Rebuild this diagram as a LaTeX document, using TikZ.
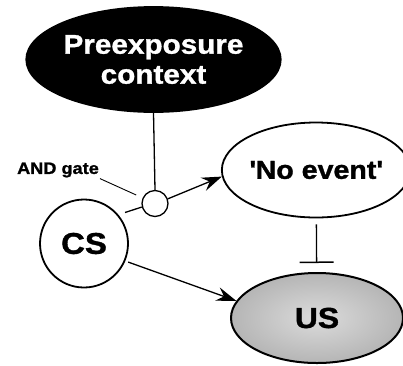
\documentclass[tikz,border=0pt]{standalone}
\usepackage{fontspec}
\setmainfont{Liberation Sans}[FakeStretch=1.1, BoldFeatures={FakeBold=1.2}]
\usetikzlibrary{shapes.geometric, arrows.meta}

\begin{document}
\begin{tikzpicture}[x = 1pt, y = -1pt,
	> = {Stealth[length = 20pt, width = 14pt, inset = 7pt]},
	every node/.style = {text = black, font = \bfseries},
	blob/.style = {ellipse, draw, line width = 1.8pt, inner sep = 0pt},
	link/.style = {line width = 1.3pt}]

	% Canvas

	\useasboundingbox (0, 0) rectangle (403, 365);

	% Stimuli and context

	\node [blob, fill = black, text = white, minimum width = 247pt, minimum height = 105pt,
		align = center, font = \bfseries\fontsize{27}{30}\selectfont]
		(ctx) at (153.5, 59.5) {Preexposure\\context};
	\node [blob, circle, minimum size = 88pt, font = \bfseries\fontsize{30}{30}\selectfont]
		(cs) at (84, 243.5) {CS};
	\node [blob, minimum width = 172pt, minimum height = 95pt, font = \bfseries\fontsize{26}{30}\selectfont]
		(noev) at (316, 170) {\textquotesingle No event\textquotesingle};
	\node [blob, line width = 2pt, shading = radial, inner color = gray!28, outer color = gray!58,
		minimum width = 172pt, minimum height = 90pt, font = \bfseries\fontsize{29}{30}\selectfont]
		(us) at (317, 318) {US};

	% AND gate with its label

	\node [circle, draw, line width = 1.3pt, minimum size = 26pt, inner sep = 0pt] (gate) at (155, 203.5) {};
	\node [inner sep = 1pt, font = \bfseries\fontsize{16.5}{18}\selectfont] (andlbl) at (58, 170) {AND gate};

	% Connections

	\draw [link] (ctx.south) -- (gate.north);
	\draw [link, shorten <= 7pt] (cs.40) -- (gate.195);
	\draw [link, ->] (gate.20) -- (noev.184);
	\draw [link, ->, shorten <= 3pt] (cs.-23) -- (us.168);
	\draw [line width = 0.9pt, shorten >= 7pt] (andlbl.south east) -- (gate);
	\draw [link, -{Bar[width = 34pt, line width = 1.5pt]}, shorten <= 6pt, shorten >= 9pt] (noev) -- (us);

\end{tikzpicture}
\end{document}
